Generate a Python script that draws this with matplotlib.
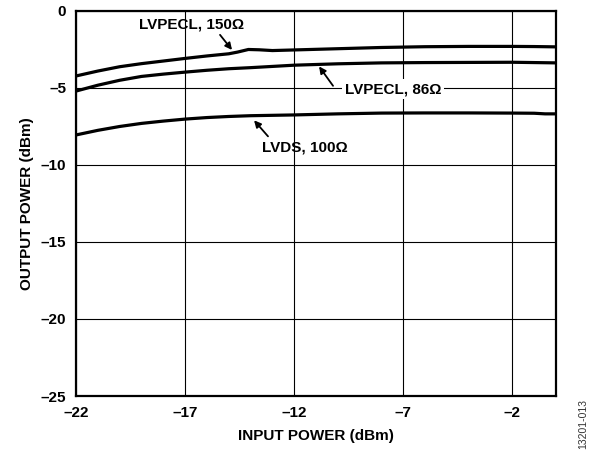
import matplotlib
matplotlib.use("Agg")
from matplotlib import pyplot as plt

# input power (dBm) and output power (dBm)
x_pecl150 = [-22, -21, -20, -19, -18, -17, -16, -15, -14.6, -14.1, -13.6, -13.0, -12, -10, -8, -6, -4, -2, -1, 0]
y_pecl150 = [-4.22, -3.9, -3.62, -3.42, -3.25, -3.08, -2.92, -2.78, -2.67, -2.5, -2.52, -2.57,
             -2.53, -2.45, -2.37, -2.32, -2.3, -2.3, -2.31, -2.33]

x_pecl86 = [-22, -21, -20, -19, -18, -17, -16, -15, -14, -12, -10, -8, -6, -4, -2, 0]
y_pecl86 = [-5.2, -4.82, -4.5, -4.25, -4.1, -3.97, -3.85, -3.75, -3.68, -3.52, -3.43, -3.37,
            -3.35, -3.34, -3.33, -3.37]

x_lvds = [-22, -21, -20, -19, -18, -17, -16, -15, -14, -12, -10, -8, -6, -4, -2, -1, -0.5, 0]
y_lvds = [-8.05, -7.75, -7.5, -7.3, -7.15, -7.02, -6.92, -6.85, -6.8, -6.75, -6.68, -6.63,
          -6.62, -6.62, -6.63, -6.64, -6.68, -6.68]

x_ticks = [-22, -17, -12, -7, -2]
y_ticks = [0, -5, -10, -15, -20, -25]

plt.rcParams['font.family'] = ['Liberation Sans', 'DejaVu Sans']
fs = 11

fig = plt.figure(figsize=(6, 4.5), dpi=100)
ax = fig.add_axes([0.1267, 0.12, 0.8, 0.8556])

ax.plot(x_pecl150, y_pecl150, color='black', lw=2.3, solid_capstyle='butt')
ax.plot(x_pecl86, y_pecl86, color='black', lw=2.3, solid_capstyle='butt')
ax.plot(x_lvds, y_lvds, color='black', lw=2.3, solid_capstyle='butt')

ax.set_xlim(-22, 0)
ax.set_ylim(-25, 0)
ax.set_xticks(x_ticks)
ax.set_yticks(y_ticks)
ax.set_xticklabels([str(v).replace('-', '\u2013') for v in x_ticks], fontweight='bold', fontsize=fs)
ax.set_yticklabels([str(v).replace('-', '\u2013') for v in y_ticks], fontweight='bold', fontsize=fs)
ax.tick_params(axis='x', length=0, pad=7)
ax.tick_params(axis='y', length=0, pad=7)
ax.grid(True, color='black', lw=0.8)
for s in ax.spines.values():
    s.set_linewidth(1.6)

ax.set_xlabel("INPUT POWER (dBm)", fontweight='bold', fontsize=fs, labelpad=7)
ax.set_ylabel("OUTPUT POWER (dBm)", fontweight='bold', fontsize=fs, labelpad=5)

arrow = dict(arrowstyle='-|>', color='black', lw=1.3, mutation_scale=10, shrinkA=0, shrinkB=0)

ax.text(-16.7, -0.9, "LVPECL, 150\u03a9", ha='center', va='center', fontsize=fs, fontweight='bold')
ax.annotate("", xy=(-14.85, -2.53), xytext=(-15.4, -1.55), arrowprops=arrow)

ax.text(-7.45, -5.07, "LVPECL, 86\u03a9", ha='center', va='center', fontsize=fs, fontweight='bold',
        bbox=dict(facecolor='white', edgecolor='none', pad=2), zorder=3)
ax.annotate("", xy=(-10.86, -3.6), xytext=(-10.22, -4.86), arrowprops=arrow, zorder=4)

ax.text(-11.5, -8.87, "LVDS, 100\u03a9", ha='center', va='center', fontsize=fs, fontweight='bold')
ax.annotate("", xy=(-13.84, -7.1), xytext=(-13.2, -8.14), arrowprops=arrow)

fig.text(583 / 600, 1 - 424 / 450, "13201-013", rotation=90, fontsize=7.5, color='#333333',
         ha='center', va='center')

fig.savefig("out.png", dpi=100)
